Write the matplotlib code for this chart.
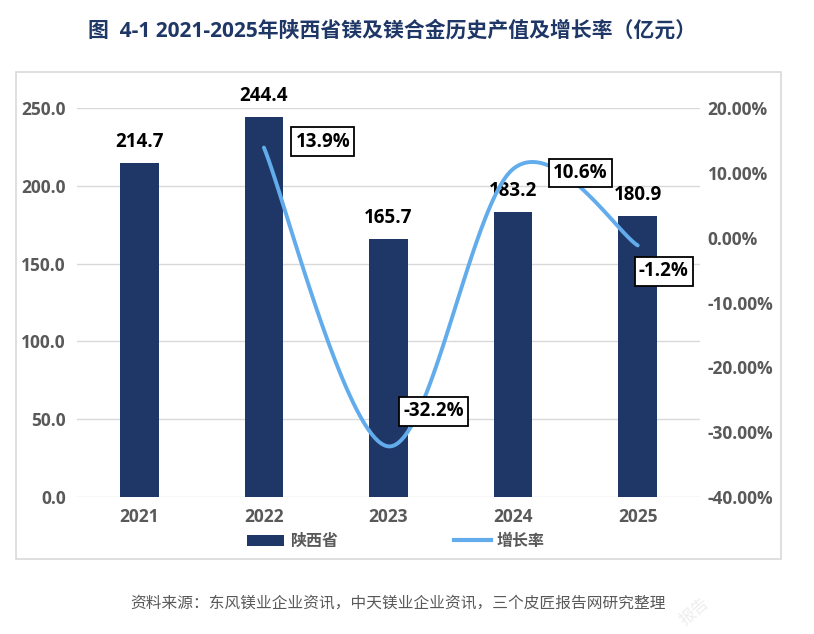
"""
图 4-1 陕西省镁及镁合金历史产值及增长率 复刻脚本
"""

import numpy as np
import matplotlib
matplotlib.use("Agg")
import matplotlib.pyplot as plt
from matplotlib.patches import Rectangle, Patch
from matplotlib.lines import Line2D
from matplotlib.ticker import FuncFormatter

plt.rcParams['font.family'] = ['Open Sans', 'Noto Sans CJK SC', 'DejaVu Sans']

# 数据
years = ["2021", "2022", "2023", "2024", "2025"]
output_value = [214.7, 244.4, 165.7, 183.2, 180.9]
growth_years = ["2022", "2023", "2024", "2025"]
growth_rate = [13.9, -32.2, 10.6, -1.2]  # %
growth_labels = ["13.9%", "-32.2%", "10.6%", "-1.2%"]
# 标签框相对数据点的偏移（像素）
growth_label_offsets = [(59, 6), (45, 35), (67, -4), (26, -26)]

BAR_COLOR = "#1F3766"
LINE_COLOR = "#62ACEC"
TICK_COLOR = "#595959"
GRID_COLOR = "#D9D9D9"


def smooth_curve(xs, ys, steps=40):
    """类似 Excel 平滑线的 Catmull-Rom 曲线（只用于绘制）。"""
    pts = np.column_stack([xs, ys]).astype(float)
    padded = np.vstack([pts[0], pts, pts[-1]])
    out = []
    for i in range(1, len(padded) - 2):
        p0, p1, p2, p3 = padded[i - 1], padded[i], padded[i + 1], padded[i + 2]
        c1 = p1 + (p2 - p0) / 6
        c2 = p2 - (p3 - p1) / 6
        t = np.linspace(0, 1, steps)[:, None]
        seg = ((1 - t) ** 3) * p1 + 3 * ((1 - t) ** 2) * t * c1 \
            + 3 * (1 - t) * t ** 2 * c2 + t ** 3 * p2
        out.append(seg if i == 1 else seg[1:])
    curve = np.vstack(out)
    return curve[:, 0], curve[:, 1]


fig = plt.figure(figsize=(8.14, 6.34), dpi=100)
W, H = 814, 634
ax = fig.add_axes([77 / W, 1 - 497 / H, (700 - 77) / W, (497 - 108) / H])

x = np.arange(len(years))
ax.bar(x, output_value, width=0.31, color=BAR_COLOR, zorder=2)
for xi, v in zip(x, output_value):
    ax.annotate(f"{v:.1f}", (xi, v), xytext=(0, 11), textcoords='offset pixels',
                ha='center', va='bottom', fontsize=13.5, fontweight='bold',
                color='black', clip_on=False)

ax.set_xlim(-0.5, len(years) - 0.5)
ax.set_ylim(0, 250)
ax.set_yticks(np.arange(0, 251, 50))
ax.yaxis.set_major_formatter(FuncFormatter(lambda v, _: f"{v:.1f}"))
ax.set_xticks(x)
ax.set_xticklabels(years)
ax.grid(axis='y', color=GRID_COLOR, lw=1, zorder=0)
ax.set_axisbelow(True)
for s in ax.spines.values():
    s.set_visible(False)
ax.tick_params(axis='both', length=0, colors=TICK_COLOR, labelsize=12.5)
ax.tick_params(axis='x', pad=8)
ax.tick_params(axis='y', pad=8)
for lab in ax.get_xticklabels() + ax.get_yticklabels():
    lab.set_fontweight('bold')

# 增长率（右轴）
ax2 = ax.twinx()
ax2.set_ylim(-40, 20)
ax2.set_yticks(np.arange(-40, 21, 10))
ax2.yaxis.set_major_formatter(FuncFormatter(lambda v, _: f"{v:.2f}%"))
for s in ax2.spines.values():
    s.set_visible(False)
ax2.tick_params(axis='y', length=0, colors=TICK_COLOR, labelsize=12.5, pad=5.5)
for lab in ax2.get_yticklabels():
    lab.set_fontweight('bold')

gx = np.array([years.index(y) for y in growth_years], dtype=float)
sx, sy = smooth_curve(gx, growth_rate)
ax2.plot(sx, sy, color=LINE_COLOR, lw=2.8, solid_capstyle='round', zorder=3)

for xi, v, lab, off in zip(gx, growth_rate, growth_labels, growth_label_offsets):
    ax2.annotate(lab, (xi, v), xytext=off, textcoords='offset pixels',
                 ha='center', va='center', fontsize=13.5, fontweight='bold',
                 color='black', zorder=5,
                 bbox=dict(boxstyle='square,pad=0.22', fc='white', ec='black', lw=1.3))

# 图例
handles = [Patch(facecolor=BAR_COLOR, edgecolor='none'),
           Line2D([0], [0], color=LINE_COLOR, lw=3)]
leg = fig.legend(handles, ["陕西省", "增长率"], loc='center', ncol=2,
                 bbox_to_anchor=(396 / W, 1 - 542 / H), frameon=False,
                 handlelength=2.3, handleheight=0.7, columnspacing=7.3,
                 handletextpad=0.35, prop={'size': 11.5, 'weight': 'bold'})
for t in leg.get_texts():
    t.set_color(TICK_COLOR)

# 外框
fig.patches.append(Rectangle((16 / W, 1 - 559 / H), (781 - 16) / W, (559 - 72) / H,
                             transform=fig.transFigure, fill=False,
                             edgecolor=GRID_COLOR, lw=1.2))

# 标题与来源
fig.text(392 / W, 1 - 31 / H, "图  4-1 2021-2025年陕西省镁及镁合金历史产值及增长率（亿元）",
         ha='center', va='center', fontsize=15, fontweight='bold', color=BAR_COLOR)
fig.text(130 / W, 1 - 604 / H,
         "资料来源：东风镁业企业资讯，中天镁业企业资讯，三个皮匠报告网研究整理",
         ha='left', va='center', fontsize=11.3, color=TICK_COLOR)

# 水印
fig.text(695 / W, 1 - 612 / H, "报告", rotation=40, fontsize=12,
         color='#EEEEEE', ha='center', va='center')

fig.savefig("out.png", dpi=100)
